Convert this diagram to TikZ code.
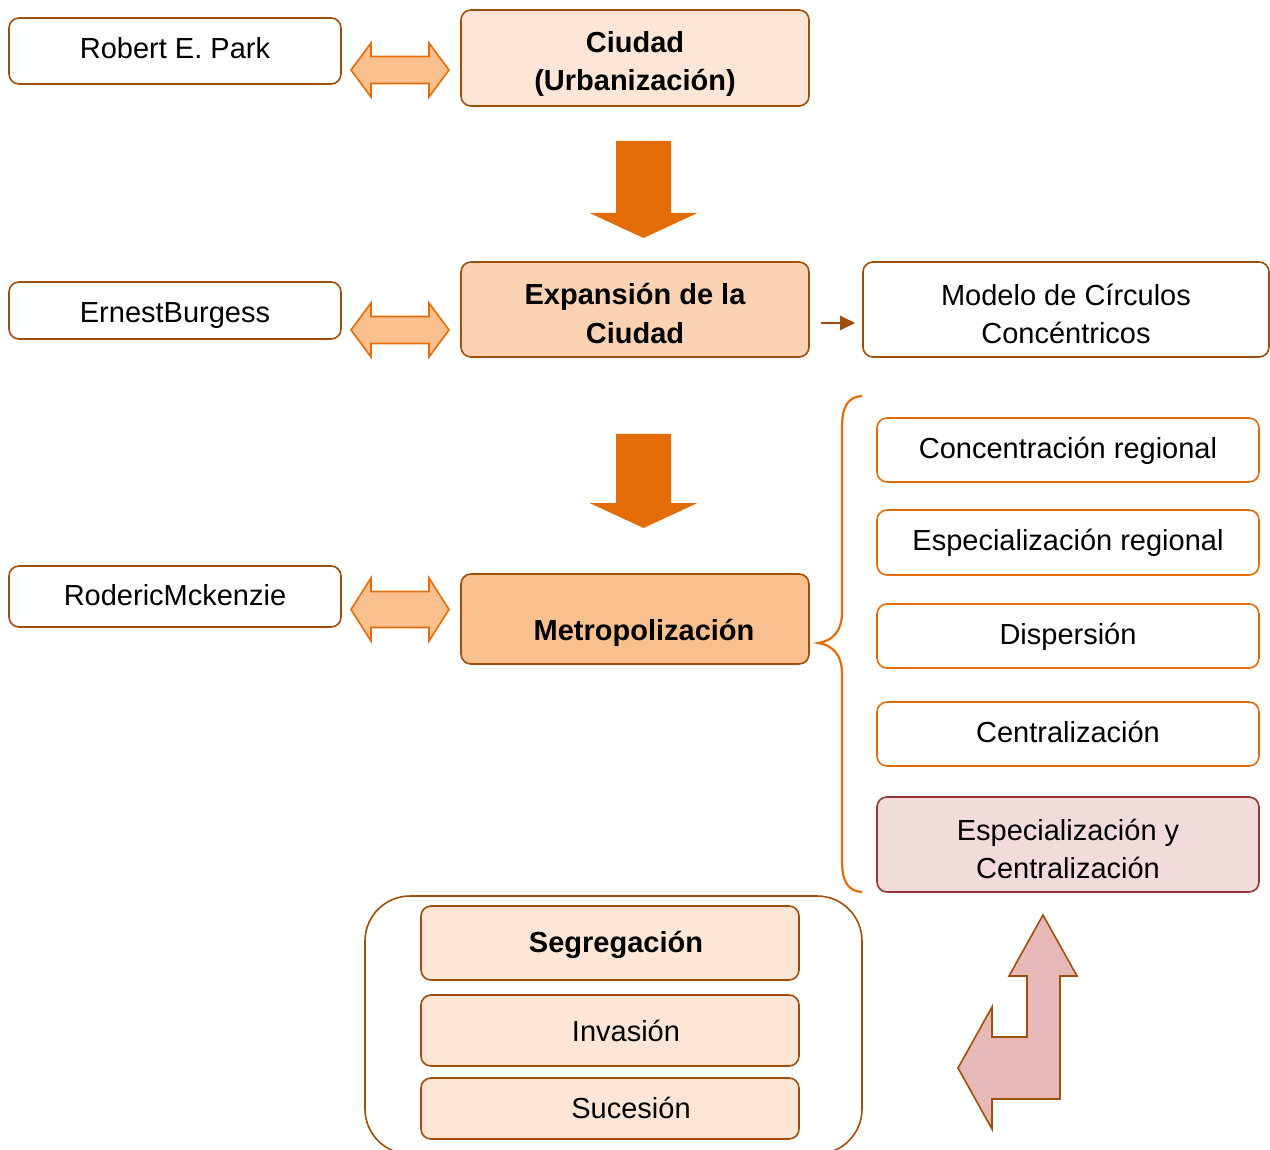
\documentclass[tikz,border=0pt]{standalone}
\usepackage{fontspec}
\setmainfont{Liberation Sans}
\usetikzlibrary{arrows.meta}

\definecolor{edgebrown}{HTML}{A04E0C}
\definecolor{edgeorange}{HTML}{E46C0A}
\definecolor{peachlight}{HTML}{FDE6D6}
\definecolor{peachmid}{HTML}{FBD3B2}
\definecolor{peachdark}{HTML}{F9C08F}
\definecolor{arroworange}{HTML}{E36C09}
\definecolor{dblfill}{HTML}{F9BF8C}
\definecolor{rosefill}{HTML}{F2DCDB}
\definecolor{roseedge}{HTML}{953735}
\definecolor{bentfill}{HTML}{E6B9B8}

\tikzset{
  txt/.style={font=\fontsize{29}{38}\selectfont, align=center, text=black, inner sep=0pt},
  btxt/.style={txt, font=\fontsize{29}{38}\selectfont\bfseries},
  oneline/.style={text height=21pt, text depth=6pt},
  bx/.style={draw=edgebrown, line width=1.6pt, rounded corners=10pt, inner sep=0pt},
  sidebox/.style={bx, draw=edgeorange, fill=white},
  dbl/.style={draw=edgeorange, fill=dblfill, line width=1.6pt, line join=miter},
  downarrow/.style={fill=arroworange, draw=none},
  pics/dblarrow/.style={code={
    \path[dbl] (-49,0) -- (-29,-#1) -- (-29,-#1+13.5) -- (29,-#1+13.5) -- (29,-#1)
      -- (49,0) -- (29,#1) -- (29,#1-13.5) -- (-29,#1-13.5) -- (-29,#1) -- cycle;
  }},
  pics/bigdown/.style={code={
    \path[downarrow] (-27.5,0) -- (27.5,0) -- (27.5,#1) -- (54,#1) -- (0,#1+25)
      -- (-54,#1) -- (-27.5,#1) -- cycle;
  }}
}

\begin{document}
\begin{tikzpicture}[x=1pt, y=-1pt]
\useasboundingbox (0,0) rectangle (1270,1150);

% left column: authors
\node[bx, fill=white, minimum width=332pt, minimum height=66pt] (park) at (175,51) {};
\node[txt, oneline] (parkt) at (175,51) {Robert E. Park};
\node[bx, fill=white, minimum width=332pt, minimum height=57pt] (burgess) at (175,310.5) {};
\node[txt, oneline] (burgesst) at (175,315) {ErnestBurgess};
\node[bx, fill=white, minimum width=332pt, minimum height=61pt] (mck) at (175,596.5) {};
\node[txt, oneline] (mckt) at (175,598) {RodericMckenzie};

% central column: stages
\node[bx, fill=peachlight, minimum width=348pt, minimum height=96pt] (ciudad) at (635,58) {};
\node[btxt] (ciudadt) at (635,64) {Ciudad\\(Urbanización)};
\node[bx, fill=peachmid, minimum width=348pt, minimum height=95pt] (expansion) at (635,309.5) {};
\node[btxt, font=\fontsize{29}{39}\selectfont\bfseries] (expansiont) at (635,314) {Expansión de la\\Ciudad};
\node[bx, fill=peachdark, minimum width=348pt, minimum height=90pt] (metro) at (635,619) {};
\node[btxt, oneline] (metrot) at (644,633) {Metropolización};

% double arrows between authors and stages
\pic at (400,70) {dblarrow=27};
\pic at (400,330) {dblarrow=27};
\pic at (400,609.5) {dblarrow=31.5};

% downward block arrows
\pic at (643.5,141) {bigdown=72};
\pic at (643.5,434) {bigdown=69};

% concentric circles model
\node[bx, fill=white, minimum width=406pt, minimum height=95pt] (modelo) at (1066,309.5) {};
\node[txt] (modelot) at (1066,314) {Modelo de Círculos\\Concéntricos};
\draw[draw=edgebrown, line width=2pt, -{Triangle[length=15pt, width=14pt]}, shorten <=11pt, shorten >=7pt]
  ([yshift=-13.5pt]expansion.east) -- ([yshift=-13.5pt]modelo.west);

% processes of metropolization
\node[sidebox, minimum width=382pt, minimum height=64pt] (conc) at (1068,450) {};
\node[txt, oneline] at (1068,451) {Concentración regional};
\node[sidebox, minimum width=382pt, minimum height=65pt] (espreg) at (1068,542.5) {};
\node[txt, oneline] at (1068,543) {Especialización regional};
\node[sidebox, minimum width=382pt, minimum height=64pt] (disp) at (1068,636) {};
\node[txt, oneline] at (1068,637) {Dispersión};
\node[sidebox, minimum width=382pt, minimum height=64pt] (centr) at (1068,734) {};
\node[txt, oneline] at (1068,735) {Centralización};
\node[bx, draw=roseedge, fill=rosefill, minimum width=382pt, minimum height=95pt] (espcen) at (1068,844.5) {};
\node[txt] at (1068,849) {Especialización y\\Centralización};

% grouping brace
\draw[edgeorange, line width=2.2pt]
  (862,396) .. controls (848,397) and (842,406) .. (842,428)
  -- (842,612) .. controls (842,632) and (832,641) .. (818,643)
  .. controls (832,645) and (842,654) .. (842,674)
  -- (842,860) .. controls (842,882) and (848,891) .. (862,892);

% bottom group
\node[bx, fill=white, rounded corners=45pt, minimum width=497pt, minimum height=258pt] (group) at (613.5,1025) {};
\node[bx, fill=peachlight, minimum width=378pt, minimum height=74pt] (seg) at (610,943) {};
\node[btxt, oneline] at (616,945) {Segregación};
\node[bx, fill=peachlight, minimum width=378pt, minimum height=71pt] (inv) at (610,1030.5) {};
\node[txt, oneline] at (626,1034) {Invasión};
\node[bx, fill=peachlight, minimum width=378pt, minimum height=61pt] (suc) at (610,1108.5) {};
\node[txt, oneline] at (631,1111) {Sucesión};

% bent block arrow
\draw[draw=edgebrown, fill=bentfill, line width=1.6pt, line join=miter]
  (1043,915) -- (1077,976) -- (1060,976) -- (1060,1099) -- (992,1099) -- (992,1129)
  -- (958,1068) -- (992,1007) -- (992,1037) -- (1027,1037) -- (1027,976) -- (1009,976) -- cycle;
\end{tikzpicture}
\end{document}
